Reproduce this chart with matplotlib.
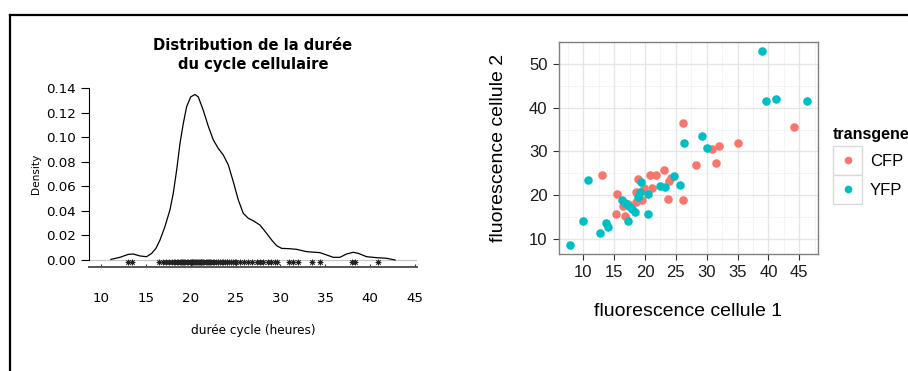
import matplotlib
matplotlib.use("Agg")
import matplotlib.pyplot as plt
from matplotlib.patches import Rectangle
from matplotlib.lines import Line2D

# density curve of the cell cycle duration
dens_x = [11.11, 12.12, 13.05, 13.6, 14.35, 15.09, 15.65, 16.13, 16.58, 17.13,
          17.69, 18.06, 18.44, 18.81, 19.18, 19.55, 20.0, 20.48, 20.85, 21.41,
          21.97, 22.52, 23.08, 23.64, 24.2, 24.75, 25.31, 25.87, 26.43, 26.98,
          27.73, 28.47, 29.03, 29.58, 30.14, 31.07, 31.81, 32.93, 34.41, 35.16,
          35.9, 36.64, 37.39, 38.13, 38.69, 39.62, 40.73, 41.85, 42.78]
dens_y = [0.0005, 0.0022, 0.0046, 0.0049, 0.0033, 0.0027, 0.0054, 0.0095, 0.0163, 0.0272,
          0.0408, 0.0544, 0.0734, 0.0951, 0.1114, 0.125, 0.133, 0.135, 0.133, 0.122,
          0.109, 0.098, 0.091, 0.0856, 0.0775, 0.0639, 0.049, 0.038, 0.034, 0.032,
          0.0285, 0.0217, 0.0163, 0.0117, 0.0095, 0.0092, 0.0087, 0.0068, 0.006, 0.0041,
          0.0022, 0.0022, 0.0049, 0.0063, 0.0054, 0.0027, 0.0019, 0.0014, 0.0]

# observed durations (rug of asterisks)
durees = [13.05, 13.5, 16.5, 16.95, 17.3, 17.6, 17.9, 18.1, 18.3, 18.5, 18.6, 18.8, 18.9,
          19.0, 19.2, 19.3, 19.4, 19.6, 19.7, 19.9, 20.0, 20.1, 20.2, 20.3, 20.4, 20.5,
          20.6, 20.7, 20.8, 20.9, 21.0, 21.1, 21.2, 21.3, 21.4, 21.5, 21.7, 21.8, 21.9,
          22.0, 22.2, 22.3, 22.5, 22.6, 22.8, 23.0, 23.1, 23.3, 23.5, 23.6, 23.8, 24.0,
          24.1, 24.3, 24.5, 24.7, 24.9, 25.1, 25.5, 25.9, 26.4, 26.8, 27.4, 27.7, 28.1,
          28.6, 29.0, 29.4, 29.6, 31.0, 31.4, 32.0, 33.5, 34.4, 37.95, 38.3, 40.9]

# fluorescence scatter
cfp_x = [13.0, 15.3, 15.5, 16.4, 16.7, 17.2, 18.5, 18.6, 18.8, 19.5, 19.9, 20.8, 21.2,
         21.8, 23.0, 23.7, 23.9, 24.2, 26.1, 26.1, 28.2, 30.8, 31.5, 32.0, 35.1, 44.1]
cfp_y = [24.6, 15.6, 20.3, 17.4, 15.1, 18.0, 18.5, 20.6, 23.7, 18.9, 21.6, 24.6, 21.7,
         24.5, 25.8, 19.1, 23.3, 23.9, 36.5, 18.9, 27.0, 30.5, 27.3, 31.3, 31.9, 35.6]
yfp_x = [7.84, 10.0, 10.76, 12.7, 13.7, 14.0, 16.2, 16.8, 17.2, 17.4, 17.9, 18.3, 18.8,
         19.2, 19.3, 20.5, 20.5, 22.5, 23.2, 24.7, 25.7, 26.3, 29.2, 30.0, 39.0, 39.6,
         41.3, 46.3]
yfp_y = [8.6, 14.1, 23.5, 11.3, 13.5, 12.7, 18.9, 18.1, 14.1, 17.5, 16.8, 16.1, 19.6,
         20.8, 22.9, 20.3, 15.6, 22.1, 21.8, 24.4, 22.3, 31.9, 33.6, 30.8, 53.1, 41.5,
         42.0, 41.5]
groups = ["CFP", "YFP"]
colors = ["#F8766D", "#00BFC4"]

W, H = 908, 371
fig = plt.figure(figsize=(W / 100, H / 100), dpi=100)


def fx(px):
    return px / W


def fy(py):
    return 1 - py / H


# frame lines of the original page
fig.add_artist(Line2D([fx(10), 1], [fy(15), fy(15)], color="black", lw=1.6))
fig.add_artist(Line2D([fx(10), fx(10)], [fy(15), 0], color="black", lw=1.6))

# ---------------- left panel: density ----------------
ax1 = fig.add_axes([fx(89.3), fy(266.7), fx(416.7) - fx(89.3), fy(80) - fy(266.7)])
ax1.set_xlim(8.7, 45.2)
ax1.set_ylim(-0.00546, 0.1468)
ax1.axhline(0, color="#c8c8c8", lw=0.9, zorder=1)
ax1.plot(dens_x, dens_y, color="black", lw=0.9, zorder=3)
ax1.plot(durees, [-0.0014] * len(durees), ls="none", marker=(8, 2, 0),
         ms=4, mew=0.6, color="#222222", zorder=2)

for s in ["top", "right"]:
    ax1.spines[s].set_visible(False)
ax1.spines["left"].set_bounds(0, 0.14)
ax1.spines["left"].set_linewidth(0.8)
ax1.spines["bottom"].set_color("#555555")
ax1.spines["bottom"].set_linewidth(1.4)
ax1.set_yticks([0, 0.02, 0.04, 0.06, 0.08, 0.10, 0.12, 0.14])
ax1.set_yticklabels(["%.2f" % v for v in ax1.get_yticks()])
ax1.set_xticks([10, 15, 20, 25, 30, 35, 40, 45])
ax1.tick_params(axis="y", direction="out", length=5.5, width=0.8, pad=4, labelsize=9.6)
ax1.tick_params(axis="x", direction="in", length=2, width=0.8, pad=18, labelsize=9.6,
                color="#333333")
ax1.set_xlabel("durée cycle (heures)", fontsize=8.7, labelpad=14)
ax1.set_ylabel("Density", fontsize=7.6, labelpad=4)
ax1.set_title("Distribution de la durée\ndu cycle cellulaire", fontsize=10.6,
              fontweight="bold", pad=8, linespacing=1.3)
ax1.patch.set_visible(False)

# ---------------- right panel: scatter ----------------
ff = "Liberation Sans"
ax2 = fig.add_axes([fx(558.7), fy(254.3), fx(818.3) - fx(558.7), fy(41.7) - fy(254.3)])
ax2.set_xlim(6.01, 48.08)
ax2.set_ylim(6.42, 55.18)
for v in [7.5, 12.5, 17.5, 22.5, 27.5, 32.5, 37.5, 42.5, 47.5]:
    ax2.axvline(v, color="#f2f2f2", lw=0.6, zorder=0)
for v in [15, 25, 35, 45, 55]:
    ax2.axhline(v, color="#f2f2f2", lw=0.6, zorder=0)
ax2.set_xticks([10, 15, 20, 25, 30, 35, 40, 45])
ax2.set_yticks([10, 20, 30, 40, 50])
ax2.grid(True, color="#e6e6e6", lw=1.0, zorder=0)
ax2.set_axisbelow(True)
ax2.scatter(cfp_x, cfp_y, s=38, color=colors[0], lw=0, zorder=3)
ax2.scatter(yfp_x, yfp_y, s=38, color=colors[1], lw=0, zorder=3)
for s in ax2.spines.values():
    s.set_color("#808080")
    s.set_linewidth(1.0)
ax2.tick_params(length=4, width=0.8, color="#333333", labelsize=12, pad=4,
                labelcolor="#1a1a1a")
for lab in ax2.get_xticklabels() + ax2.get_yticklabels():
    lab.set_fontfamily(ff)
ax2.set_xlabel("fluorescence cellule 1", fontsize=14, family=ff, labelpad=16)
ax2.set_ylabel("fluorescence cellule 2", fontsize=14, family=ff, labelpad=16)

# legend drawn by hand (cut at the right edge like the original)
fig.text(fx(833), fy(135), "transgene", fontsize=11.5, fontweight="bold", family=ff,
         ha="left", va="center")
for i, (g, c) in enumerate(zip(groups, colors)):
    top = 145.7 + i * 29
    fig.add_artist(Rectangle((fx(833), fy(top + 29)), fx(29), 29 / H,
                             facecolor="white", edgecolor="#d9d9d9", lw=1.0))
    fig.add_artist(Line2D([fx(847.5)], [fy(top + 14.5)], marker="o", ms=5.5,
                          color=c, mew=0))
    fig.text(fx(869.7), fy(top + 16), g, fontsize=12, family=ff, ha="left", va="center")

fig.savefig("out.png", dpi=100)
